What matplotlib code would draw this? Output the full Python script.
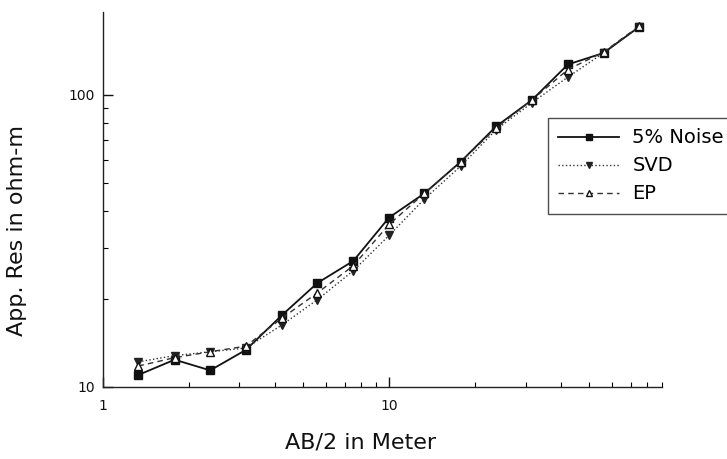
import matplotlib
matplotlib.use("Agg")
import matplotlib.pyplot as plt
from matplotlib.ticker import FixedLocator, LogLocator, NullFormatter

# AB/2 spacings (m) and apparent resistivity (ohm-m)
AB2 = [1.33, 1.78, 2.37, 3.16, 4.22, 5.62, 7.5, 10, 13.3, 17.8, 23.7, 31.6, 42.2, 56.2, 75]
NOISE = [11.0, 12.4, 11.4, 13.4, 17.6, 22.7, 27, 38, 46, 59, 78, 96, 127, 139, 171]
SVD = [12.2, 12.8, 13.2, 13.6, 16.3, 19.9, 25, 33, 44, 57, 76, 94, 115, 139, 171]
EP = [11.8, 12.6, 13.2, 13.8, 17.2, 21.0, 26, 36, 46, 59, 77, 96, 122, 140, 172]

X_TICKS = [1, 10]
X_TICKLABELS = ["1", "10"]
Y_TICKS = [10, 100]
Y_TICKLABELS = ["10", "100"]

fig = plt.figure(figsize=(7.27, 4.59), dpi=100, facecolor="white")
ax = fig.add_axes([103 / 727, 1 - 387 / 459, (662 - 103) / 727, (387 - 12) / 459])

ax.plot(AB2, NOISE, color="#111111", lw=1.3, ls="-", marker="s", ms=5.5,
        mfc="#111111", mec="#111111", label="5% Noise")
ax.plot(AB2, SVD, color="#333333", lw=1.0, ls=":", marker="v", ms=5.5,
        mfc="#222222", mec="#222222", label="SVD")
ax.plot(AB2, EP, color="#333333", lw=1.0, ls=(0, (4, 3)), marker="^", ms=5.5,
        mfc="white", mec="#111111", label="EP")

ax.set_xscale("log")
ax.set_yscale("log")
ax.set_xlim(1, 90)
ax.set_ylim(10, 192)

ax.xaxis.set_major_locator(FixedLocator(X_TICKS))
ax.set_xticklabels(X_TICKLABELS)
ax.yaxis.set_major_locator(FixedLocator(Y_TICKS))
ax.set_yticklabels(Y_TICKLABELS)
ax.xaxis.set_minor_locator(LogLocator(base=10, subs=range(2, 10)))
ax.yaxis.set_minor_locator(LogLocator(base=10, subs=range(2, 10)))
ax.xaxis.set_minor_formatter(NullFormatter())
ax.yaxis.set_minor_formatter(NullFormatter())

ax.tick_params(which="major", direction="in", length=7, width=1.0,
               labelsize=10, colors="#111111", pad=6)
ax.tick_params(which="minor", direction="in", length=3.5, width=0.8)
ax.tick_params(axis="x", which="major", pad=9)

for side in ("top", "right"):
    ax.spines[side].set_visible(False)
for side in ("left", "bottom"):
    ax.spines[side].set_linewidth(1.0)
    ax.spines[side].set_color("#222222")

ax.set_xlabel("AB/2 in Meter", fontsize=16, color="#111111")
ax.xaxis.set_label_coords(0.46, -0.12)
ax.set_ylabel("App. Res in ohm-m", fontsize=16, color="#111111")
ax.yaxis.set_label_coords(-0.136, 0.416)

# legend frame runs off the right edge, as in the scanned original
leg = ax.legend(loc="upper left", bbox_to_anchor=(538 / 727, 1 - 108 / 459),
                bbox_transform=fig.transFigure, fontsize=14, frameon=True,
                fancybox=False, edgecolor="#222222", handlelength=3.1,
                handletextpad=0.7, borderpad=0.55, labelspacing=0.46,
                markerscale=0.9)
leg.get_frame().set_linewidth(1.0)

fig.savefig("out.png", dpi=100, facecolor="white")
